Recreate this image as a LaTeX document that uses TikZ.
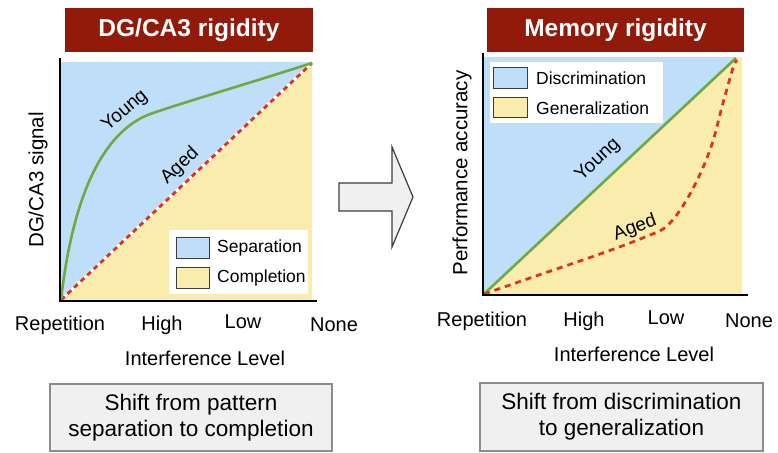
\documentclass[tikz,border=0pt]{standalone}
\usepackage{fontspec}
\setmainfont{Liberation Sans}
\definecolor{titlered}{RGB}{146,26,10}
\definecolor{sepblue}{RGB}{190,222,250}
\definecolor{compyellow}{RGB}{250,236,172}
\definecolor{younggreen}{RGB}{112,170,62}
\definecolor{agedred}{RGB}{222,52,28}
\definecolor{boxgray}{RGB}{240,240,240}
\definecolor{boxedge}{RGB}{140,140,140}
\definecolor{swatchedge}{RGB}{60,60,60}
\tikzset{
  titlebox/.style={fill=titlered, text=white, font=\fontsize{24.5}{28}\selectfont\bfseries, inner sep=0pt, minimum height=44pt},
  ticklab/.style={font=\fontsize{20}{24}\selectfont, inner sep=0pt},
  axislab/.style={font=\fontsize{20.5}{24}\selectfont, inner sep=0pt},
  leglab/.style={font=\fontsize{17.5}{21}\selectfont, inner sep=0pt, anchor=west},
  curvelab/.style={font=\fontsize{19}{22}\selectfont, inner sep=0pt},
  swatch/.style={draw=swatchedge, line width=1pt},
  axisline/.style={line width=2.7pt, black},
  younglinestyle/.style={younggreen, line width=2.6pt},
  agedlinestyle/.style={agedred, line width=2.8pt, dash pattern=on 5pt off 4pt},
  summary/.style={draw=boxedge, line width=1.2pt, fill=boxgray, align=center, inner sep=0pt, font=\fontsize{22.5}{26}\selectfont},
}
\begin{document}
\begin{tikzpicture}[x=1pt,y=-1pt]
\useasboundingbox (0,0) rectangle (778,452);

% ===== Left panel =====
\node[titlebox, minimum width=248pt] (ltitle) at (189,30) {DG/CA3 rigidity};
\fill[sepblue] (61,62) rectangle (312,300);
\fill[compyellow] (61,300) -- (312,62) -- (312,300) -- cycle;
\coordinate (lo) at (61,300);
\coordinate (lend) at (312,63);
\draw[white, line width=2.8pt] (lo) -- (lend);
\draw[agedlinestyle] (lo) -- (lend);
\draw[younglinestyle] (lo) .. controls (74,185) and (108,128) .. (153,113)
      .. controls (185,102) and (250,83) .. (lend);
\node[curvelab, rotate=40] (lyoung) at (125,111) {Young};
\node[curvelab, rotate=43.5] (laged) at (180,166) {Aged};
% legend
\fill[white] (169,230) rectangle (308,294);
\draw[swatch, fill=sepblue] (176,237) rectangle (209,258);
\draw[swatch, fill=compyellow] (176,267) rectangle (209,288);
\node[leglab] (lsep) at (217,248) {Separation};
\node[leglab] (lcomp) at (217,278) {Completion};
% axes
\draw[axisline] (60,58) -- (60,302.3);
\draw[axisline] (58.7,301) -- (317,301);
\node[axislab, rotate=90] (lylab) at (38,180) {DG/CA3 signal};
\node[ticklab] (lrep) at (60,325) {Repetition};
\node[ticklab] (lhigh) at (162,325) {High};
\node[ticklab] (llow) at (243,322) {Low};
\node[ticklab] (lnone) at (334,325) {None};
\node[ticklab] (lxlab) at (205,358) {Interference Level};
\node[summary, minimum width=282pt, minimum height=67pt] (lsum) at (191,417.5) {Shift from pattern\\separation to completion};

% ===== Arrow =====
\draw[draw=swatchedge, line width=1.2pt, fill=boxgray, line join=miter]
  (339,183) -- (392,183) -- (392,147) -- (413,197) -- (392,247) -- (392,211) -- (339,211) -- cycle;

% ===== Right panel =====
\node[titlebox, minimum width=257pt] (rtitle) at (615.5,30) {Memory rigidity};
\fill[sepblue] (484,57) rectangle (742,294);
\fill[compyellow] (484,294) -- (736,57) -- (742,57) -- (742,294) -- cycle;
\coordinate (ro) at (484,294);
\coordinate (rend) at (736,58);
\draw[younglinestyle] (ro) -- (rend);
\draw[agedlinestyle, dash pattern=on 6pt off 5pt] plot[smooth, tension=0.6] coordinates
  {(484,294) (533,277) (600,254) (645,237) (668,225) (690,194) (710,150) (723,103) (733,68) (737,60)};
\node[curvelab, rotate=43.2] (ryoung) at (598,160) {Young};
\node[curvelab, rotate=20] (raged) at (635,228) {Aged};
% legend
\fill[white] (490,62) rectangle (663,123);
\draw[swatch, fill=sepblue] (493,67) rectangle (527,88);
\draw[swatch, fill=compyellow] (493,97) rectangle (527,117);
\node[leglab] (rdisc) at (536,78) {Discrimination};
\node[leglab] (rgen) at (536,108) {Generalization};
% axes
\draw[axisline] (483,53) -- (483,296.3);
\draw[axisline] (481.7,295) -- (748,295);
\node[axislab, rotate=90] (rylab) at (462,173) {Performance accuracy};
\node[ticklab] (rrep) at (482,321) {Repetition};
\node[ticklab] (rhigh) at (584,321) {High};
\node[ticklab] (rlow) at (666,318) {Low};
\node[ticklab] (rnone) at (749,321) {None};
\node[ticklab] (rxlab) at (634,354) {Interference Level};
\node[summary, minimum width=283pt, minimum height=68pt] (rsum) at (621.5,417) {Shift from discrimination\\to generalization};
\end{tikzpicture}
\end{document}
